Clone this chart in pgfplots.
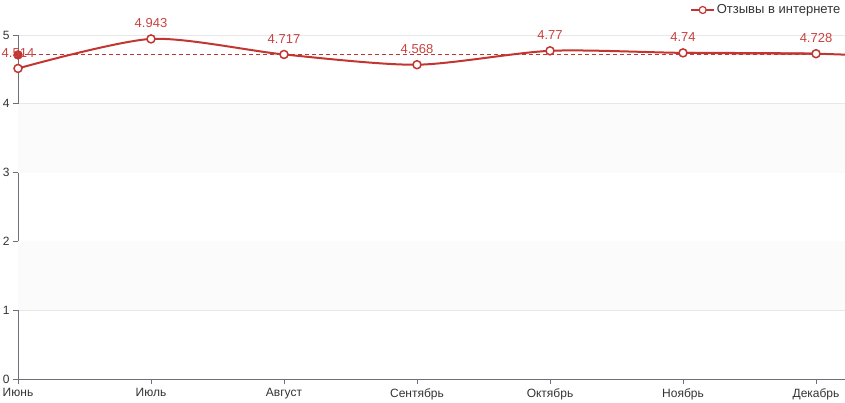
\documentclass[border=0pt]{standalone}
\usepackage{fontspec}
\setmainfont{Liberation Sans}
\usepackage{pgfplots}
\usepackage{pgfplotstable}
\pgfplotsset{compat=1.18}
\definecolor{sred}{HTML}{C23531}
\definecolor{lred}{HTML}{C9433F}
\definecolor{axgray}{HTML}{6E7079}
\definecolor{txtgray}{HTML}{333333}
\definecolor{band}{HTML}{FBFBFB}
\definecolor{gridc}{HTML}{E8E8E8}
\pgfplotstableread{
x y lab
0 4.514 4.514
1 4.943 4.943
2 4.717 4.717
3 4.568 4.568
4 4.77 4.77
5 4.74 4.74
6 4.728 4.728
}\data
\begin{document}
\begin{tikzpicture}[x=1pt,y=1pt]
\useasboundingbox (0,0) rectangle (845,403);
\begin{axis}[
  at={(18pt,24pt)}, anchor=south west,
  scale only axis, width=827pt, height=344pt,
  xmin=0, xmax=6.218, ymin=0, ymax=5,
  ytick={0,1,2,3,4,5},
  xtick={0,1,2,3,4,5,6},
  xticklabels={Июнь,Июль,Август,Сентябрь,Октябрь,Ноябрь,Декабрь},
  axis lines*=left,
  axis line style={axgray, line width=0.8pt},
  tick style={axgray, line width=0.8pt},
  tick align=outside, major tick length=5pt,
  ymajorgrids, grid style={gridc, line width=0.6pt},
  ticklabel style={font=\fontsize{12}{14}\selectfont, text=txtgray},
  /pgf/number format/assume math mode=true,
  xticklabel style={yshift=-1pt},
  clip=false,
  legend style={at={(0.997,1)}, anchor=east, yshift=25pt, draw=none, fill=none,
    font=\fontsize{13}{15}\selectfont, text=txtgray, inner sep=0pt, row sep=0pt},
  legend cell align=left,
]
% split area bands
\fill[band] (axis cs:0,1) rectangle (axis cs:6.218,2);
\fill[band] (axis cs:0,3) rectangle (axis cs:6.218,4);
\addlegendimage{legend image code/.code={
  \draw[sred, line width=1.3pt] (-8pt,0) -- (15pt,0);
  \draw[sred, fill=white, line width=1.2pt] (3.5pt,0) circle (3.5pt);}}
\addlegendentry{Отзывы в интернете}
% average line
\addplot[sred, dash pattern=on 4pt off 3pt, line width=0.8pt, forget plot] coordinates {(0,4.711) (6.218,4.711)};
\addplot[sred, only marks, mark=*, mark size=4.5pt, mark options={solid, fill=sred}, forget plot] coordinates {(0,4.711)};
% continuation beyond the last visible category (clipped by page edge)
\addplot[sred, line width=2pt, smooth, tension=0.45, forget plot] coordinates {(5,4.74) (6,4.728) (7,4.65)};
% series
\addplot[sred, line width=2pt, smooth, tension=0.45,
  mark=*, mark size=4pt, mark options={solid, fill=white, line width=1.5pt},
  nodes near coords, point meta=explicit symbolic,
  every node near coord/.append style={font=\fontsize{13}{15}\selectfont, text=lred, anchor=south, yshift=7pt},
  forget plot]
  table[x=x, y=y, meta=lab] {\data};
\end{axis}
\end{tikzpicture}
\end{document}
